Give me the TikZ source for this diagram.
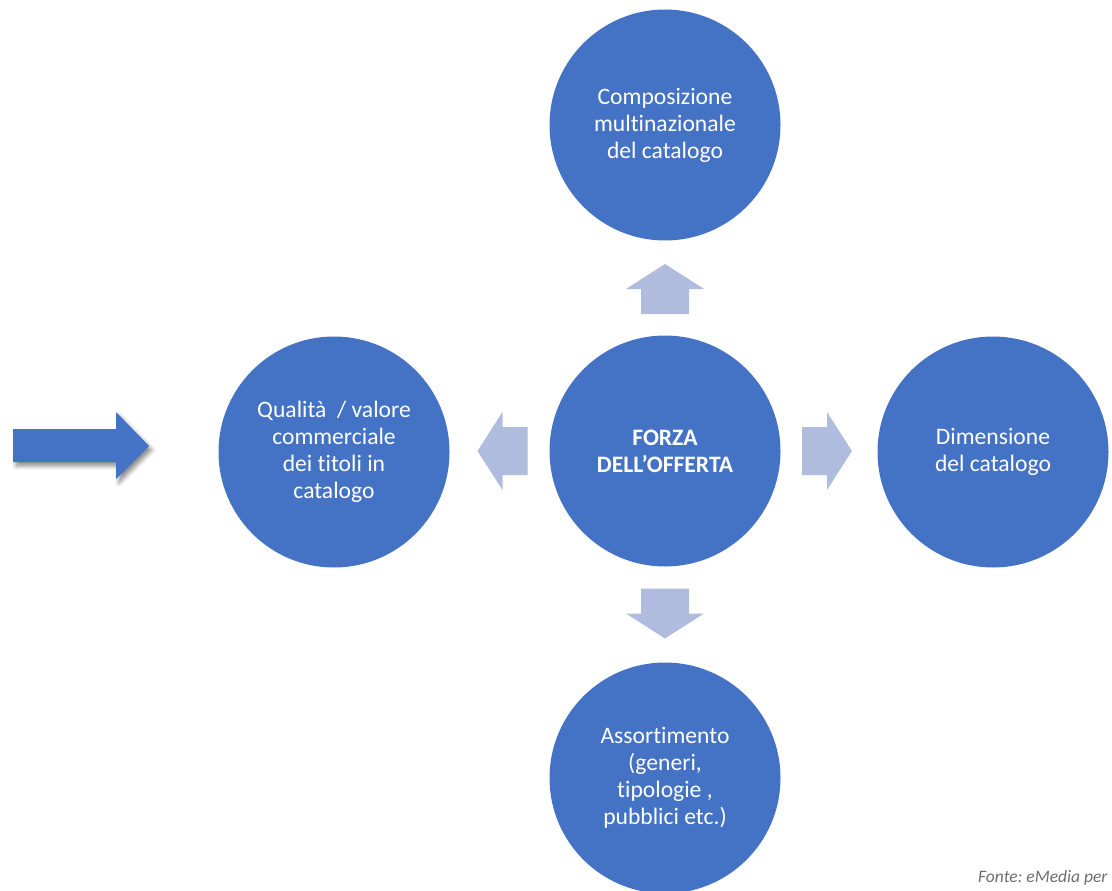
\documentclass[tikz,border=0pt]{standalone}
\usepackage{fontspec}
\setmainfont{Carlito}[Ligatures={TeX,NoCommon}]
\usetikzlibrary{positioning}
\usetikzlibrary{shadows.blur}

\definecolor{bluefill}{RGB}{68,114,196}
\definecolor{paleblue}{RGB}{176,188,222}
\definecolor{sourcegrey}{RGB}{110,110,110}

\tikzset{
	pics/fatarrow/.style = {code = {
		\fill[paleblue] (-25,-24) -- (0,-24) -- (0,-39) -- (25,0) -- (0,39) -- (0,24) -- (-25,24) -- cycle;
	}}
}

\begin{document}
\begin{tikzpicture}[x=1pt,y=-1pt,
	bubble/.style = {circle,fill = bluefill,minimum size = 231pt,inner sep = 0pt,text = white,align = center,font = \fontsize{23.6}{27}\selectfont}]
		\useasboundingbox (0,0) rectangle (1112,891);
		\clip (0,0) rectangle (1112,891);
		\node[bubble] at (665,451) (forza) {\textbf{FORZA}\\\textbf{DELL’OFFERTA}};
		\node[bubble] at (665,125) (comp) {Composizione\\multinazionale\\del catalogo};
		\node[bubble] at (665,778) (assort) {Assortimento\\(generi,\\tipologie ,\\pubblici etc.)};
		\node[bubble] at (334,452) (qual) {Qualità~ / valore\\commerciale\\dei titoli in\\catalogo};
		\node[bubble] at (993,452) (dim) {Dimensione\\del catalogo};
		% pale arrows round the centre
		\pic[rotate = 90] at (665,289) (arrN) {fatarrow};
		\pic[rotate = -90] at (665,613.5) (arrS) {fatarrow};
		\pic[rotate = 180] at (502.5,451) (arrW) {fatarrow};
		\pic at (827,451) (arrE) {fatarrow};
		% big arrow on the left
		\fill[bluefill,blur shadow = {shadow xshift = 3pt,shadow yshift = -4pt,shadow blur radius = 4pt,shadow opacity = 45}]
			(13,429) -- (116,429) -- (116,412) -- (149,446) -- (116,479) -- (116,462) -- (13,462) -- cycle;
		\node[anchor = base west,inner sep = 0pt,text = sourcegrey,font = \fontsize{17.5}{21}\selectfont\itshape\frenchspacing] at (978,882) (fonte) {Fonte: eMedia per};
	\end{tikzpicture}
\end{document}
